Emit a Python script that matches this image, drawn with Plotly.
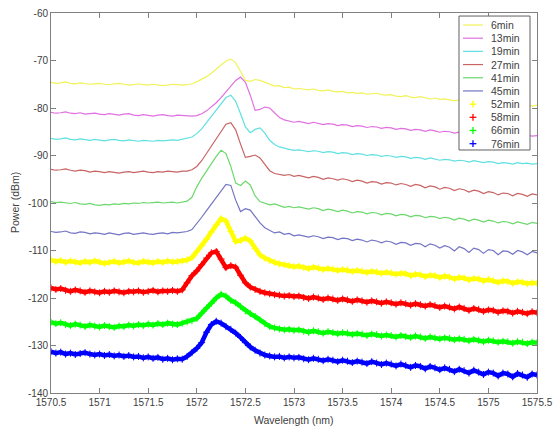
import numpy as np
import plotly.graph_objects as go

# OSA sweep grid: 1570.5 nm to 1575.5 nm, 0.05 nm step
wavelength = np.round(1570.5 + 0.05 * np.arange(101), 2)

labels = ["6min", "13min", "19min", "27min", "41min", "45min",
          "52min", "58min", "66min", "76min"]

p_6min = [
    -74.6, -74.8, -74.7, -74.5, -74.8, -74.9, -74.7, -74.8, -75.0, -74.9,
    -74.8, -75.0, -75.1, -74.9, -74.8, -75.0, -75.2, -75.1, -74.9, -75.1,
    -75.2, -75.0, -75.1, -75.3, -75.2, -75.0, -75.1, -75.2, -75.1, -74.9,
    -74.5, -74.0, -73.4, -72.7, -71.8, -70.9, -70.1, -69.7, -70.5, -72.3,
    -74.2, -74.4, -74.0, -74.2, -74.6, -75.0, -75.4, -75.3, -75.7, -75.6,
    -76.0, -75.9, -76.1, -76.2, -76.0, -76.3, -76.4, -76.2, -76.5, -76.6,
    -76.5, -76.8, -76.7, -76.9, -76.8, -77.1, -77.0, -76.9, -77.2, -77.3,
    -77.2, -77.5, -77.6, -77.4, -77.7, -77.8, -77.6, -77.9, -78.1, -77.9,
    -78.2, -78.1, -78.3, -78.5, -78.3, -78.4, -78.7, -78.6, -78.8, -78.7,
    -79.0, -78.9, -79.1, -79.3, -79.1, -79.2, -79.5, -79.3, -79.4, -79.6, -79.4]

p_13min = [
    -80.9, -81.1, -81.0, -80.8, -81.1, -81.2, -81.0, -81.3, -81.2, -81.1,
    -81.3, -81.4, -81.2, -81.3, -81.5, -81.3, -81.2, -81.5, -81.6, -81.4,
    -81.5, -81.7, -81.5, -81.4, -81.6, -81.7, -81.5, -81.6, -81.6, -81.7,
    -81.6, -81.2, -80.6, -79.8, -78.9, -77.8, -76.6, -75.4, -74.2, -73.5,
    -74.6, -77.3, -80.5, -80.3, -79.8, -80.0, -81.0, -82.0, -82.5, -82.8,
    -83.0, -82.8, -83.1, -83.3, -83.0, -83.2, -83.5, -83.3, -83.4, -83.7,
    -83.5, -83.6, -83.9, -83.7, -83.8, -84.1, -83.9, -84.0, -84.3, -84.1,
    -84.2, -84.5, -84.3, -84.4, -84.7, -84.5, -84.6, -84.9, -84.6, -84.8,
    -85.1, -84.9, -85.0, -85.3, -85.1, -85.2, -85.5, -85.2, -85.4, -85.6,
    -85.4, -85.5, -85.8, -85.6, -85.7, -85.9, -85.6, -85.8, -85.7, -85.9, -85.8]

p_19min = [
    -86.4, -86.6, -86.5, -86.3, -86.6, -86.7, -86.5, -86.6, -86.8, -86.6,
    -86.7, -86.9, -86.7, -86.6, -86.8, -86.9, -86.7, -86.8, -87.0, -86.8,
    -86.9, -87.0, -86.8, -86.9, -86.8, -86.7, -86.8, -86.6, -86.4, -86.1,
    -85.4, -84.4, -83.1, -81.8, -80.4, -79.0, -77.8, -77.3, -78.6, -81.2,
    -84.0, -85.2, -84.5, -84.2, -85.3, -86.8, -87.7, -88.2, -88.5, -88.7,
    -88.9, -88.8, -89.0, -89.2, -89.0, -89.1, -89.4, -89.2, -89.3, -89.6,
    -89.4, -89.5, -89.8, -89.6, -89.7, -90.0, -89.8, -89.9, -90.2, -90.0,
    -90.1, -90.4, -90.2, -90.3, -90.6, -90.4, -90.5, -90.8, -90.5, -90.7,
    -91.0, -90.8, -90.9, -91.2, -91.0, -91.1, -91.4, -91.1, -91.3, -91.5,
    -91.3, -91.4, -91.7, -91.5, -91.6, -91.8, -91.5, -91.7, -91.6, -91.8, -91.7]

p_27min = [
    -92.9, -93.1, -93.0, -92.8, -93.1, -93.3, -93.1, -93.2, -93.5, -93.3,
    -93.4, -93.6, -93.4, -93.5, -93.7, -93.5, -93.4, -93.6, -93.5, -93.3,
    -93.5, -93.6, -93.4, -93.5, -93.3, -93.4, -93.5, -93.3, -93.3, -93.0,
    -92.3, -91.1, -89.6, -88.1, -86.6, -85.0, -83.4, -83.1, -84.6, -87.6,
    -90.4, -90.2, -89.9, -90.5, -91.9, -93.2, -93.8, -94.0, -94.2, -94.0,
    -94.4, -94.2, -94.5, -94.7, -94.4, -94.6, -95.0, -94.7, -94.9, -95.2,
    -94.9, -95.1, -95.5, -95.2, -95.4, -95.8, -95.5, -95.6, -96.0, -95.7,
    -95.8, -96.2, -95.9, -96.1, -96.5, -96.1, -96.3, -96.8, -96.4, -96.6,
    -97.1, -96.7, -96.9, -97.4, -97.0, -97.2, -97.7, -97.3, -97.5, -98.0,
    -97.6, -97.8, -98.3, -97.9, -98.0, -98.5, -98.0, -98.2, -98.6, -98.1, -98.3]

p_41min = [
    -99.7, -99.9, -99.8, -100.0, -100.1, -99.9, -100.2, -100.3, -100.1, -100.4,
    -100.5, -100.3, -100.4, -100.2, -100.3, -100.1, -100.2, -100.0, -100.1, -99.9,
    -100.0, -99.9, -99.8, -100.0, -99.9, -99.8, -100.0, -99.8, -99.6, -98.8,
    -96.6, -94.8, -93.2, -91.8, -90.2, -88.9, -89.6, -92.3, -95.8, -96.3,
    -95.4, -96.2, -98.5, -99.7, -100.1, -100.4, -100.2, -100.6, -100.9, -100.7,
    -101.0, -100.8, -101.1, -101.3, -101.0, -101.2, -101.6, -101.3, -101.5, -101.8,
    -101.5, -101.7, -102.1, -101.8, -101.9, -102.3, -102.0, -102.1, -102.5, -102.2,
    -102.3, -102.7, -102.4, -102.5, -102.9, -102.6, -102.7, -103.1, -102.8, -102.9,
    -103.3, -103.0, -103.2, -103.6, -103.2, -103.4, -103.8, -103.4, -103.6, -104.0,
    -103.6, -103.8, -104.2, -103.9, -104.0, -104.4, -104.0, -104.2, -104.5, -104.1, -104.3]

p_45min = [
    -106.0, -106.2, -106.1, -105.9, -106.3, -106.4, -106.1, -106.2, -106.5, -106.3,
    -106.4, -106.6, -106.3, -106.5, -106.7, -106.4, -106.3, -106.6, -106.5, -106.3,
    -106.5, -106.6, -106.4, -106.3, -106.5, -106.2, -106.3, -106.2, -106.0, -105.6,
    -104.4, -103.0, -101.6, -100.2, -98.9, -97.5, -96.1, -96.3, -99.4, -101.8,
    -101.2, -101.5, -102.9, -104.2, -105.2, -105.8, -106.3, -106.1, -106.6, -106.4,
    -106.9, -106.7, -107.0, -107.2, -106.9, -107.1, -107.5, -107.2, -107.3, -107.7,
    -107.4, -107.5, -107.9, -107.6, -107.8, -108.2, -107.8, -108.0, -108.4, -108.0,
    -108.2, -108.7, -108.3, -108.4, -108.9, -108.5, -108.6, -109.2, -108.6, -108.9,
    -109.5, -109.0, -109.3, -110.1, -109.2, -109.6, -110.4, -109.5, -109.8, -110.6,
    -109.8, -110.0, -110.9, -110.1, -110.2, -110.8, -110.0, -110.3, -110.9, -110.2, -110.5]

p_52min = [
    -112.0, -112.3, -112.1, -112.5, -112.2, -112.4, -112.6, -112.3, -112.5, -112.2,
    -112.4, -112.7, -112.5, -112.3, -112.6, -112.4, -112.2, -112.5, -112.6, -112.3,
    -112.4, -112.6, -112.3, -112.5, -112.2, -112.4, -112.3, -112.2, -112.0, -111.5,
    -110.3, -109.0, -107.6, -106.1, -104.6, -103.3, -103.8, -106.0, -108.1, -107.9,
    -107.4, -108.0, -109.6, -110.9, -111.6, -112.1, -112.5, -112.8, -113.0, -113.2,
    -113.4, -113.3, -113.6, -113.8, -113.5, -113.7, -114.0, -113.8, -113.9, -114.2,
    -114.0, -114.1, -114.4, -114.2, -114.3, -114.6, -114.4, -114.5, -114.8, -114.6,
    -114.7, -115.0, -114.8, -114.9, -115.3, -115.0, -115.1, -115.5, -115.2, -115.3,
    -115.7, -115.4, -115.6, -116.0, -115.7, -115.8, -116.2, -115.9, -116.0, -116.4,
    -116.1, -116.3, -116.7, -116.4, -116.5, -116.9, -116.6, -116.7, -117.0, -116.8, -116.9]

p_58min = [
    -117.9, -118.2, -118.0, -118.4, -118.6, -118.3, -118.5, -118.8, -118.5, -118.7,
    -118.9, -118.6, -118.8, -118.5, -118.7, -118.9, -118.6, -118.7, -118.5, -118.8,
    -118.6, -118.4, -118.7, -118.5, -118.6, -118.4, -118.6, -118.3, -116.8, -115.3,
    -114.3, -113.0, -111.6, -110.5, -110.2, -111.8, -113.6, -113.2, -113.5, -115.2,
    -116.8, -117.7, -118.2, -118.6, -118.9, -119.1, -119.3, -119.4, -119.6, -119.5,
    -119.7, -119.6, -119.9, -120.1, -119.8, -120.0, -120.3, -120.0, -120.2, -120.5,
    -120.2, -120.4, -120.7, -120.4, -120.6, -120.9, -120.6, -120.8, -121.1, -120.8,
    -121.0, -121.3, -121.0, -121.2, -121.5, -121.2, -121.4, -121.7, -121.4, -121.6,
    -122.0, -121.7, -121.9, -122.3, -121.9, -122.2, -122.6, -122.2, -122.4, -122.8,
    -122.5, -122.6, -123.0, -122.7, -122.8, -123.2, -122.8, -123.0, -123.3, -122.9, -123.1]

p_66min = [
    -125.1, -125.4, -125.2, -125.6, -125.8, -125.5, -125.7, -126.0, -125.7, -125.9,
    -126.1, -125.8, -126.0, -126.2, -125.9, -126.0, -125.7, -125.9, -125.6, -125.8,
    -125.5, -125.7, -125.4, -125.6, -125.3, -125.5, -125.6, -125.3, -125.0, -124.8,
    -124.3, -123.2, -122.1, -121.1, -120.0, -119.2, -119.6, -120.5, -121.0, -121.8,
    -122.7, -123.3, -123.9, -124.6, -125.4, -126.0, -126.3, -126.5, -126.7, -126.6,
    -126.8, -126.7, -127.0, -127.2, -126.9, -127.1, -127.4, -127.1, -127.3, -127.5,
    -127.3, -127.4, -127.7, -127.5, -127.6, -127.9, -127.6, -127.7, -128.0, -127.8,
    -127.9, -128.2, -127.9, -128.1, -128.3, -128.0, -128.2, -128.5, -128.2, -128.4,
    -128.6, -128.4, -128.5, -128.8, -128.6, -128.7, -129.0, -128.7, -128.9, -129.2,
    -128.9, -129.0, -129.3, -129.1, -129.2, -129.5, -129.2, -129.3, -129.6, -129.3, -129.4]

p_76min = [
    -131.3, -131.6, -131.4, -131.8, -131.6, -131.9, -131.7, -131.5, -131.8, -132.0,
    -131.8, -132.1, -131.9, -132.2, -132.0, -132.3, -132.1, -132.4, -132.3, -132.6,
    -132.4, -132.7, -132.5, -132.9, -132.7, -133.0, -132.8, -132.9, -132.3, -131.5,
    -130.6, -129.4, -127.2, -125.6, -124.9, -125.3, -126.0, -126.6, -127.4, -128.3,
    -129.4, -130.3, -131.0, -131.6, -132.0, -132.2, -132.4, -132.3, -132.6, -132.4,
    -132.6, -132.5, -132.8, -133.0, -132.7, -132.9, -133.2, -132.9, -133.1, -133.4,
    -133.1, -133.3, -133.6, -133.3, -133.5, -133.8, -133.4, -133.7, -134.0, -133.7,
    -133.9, -134.3, -133.9, -134.2, -134.6, -134.2, -134.4, -134.9, -134.4, -134.7,
    -135.1, -134.7, -135.0, -135.5, -135.0, -135.3, -135.8, -135.2, -135.6, -136.1,
    -135.6, -135.8, -136.4, -135.8, -136.0, -136.6, -135.9, -136.2, -136.7, -136.0, -136.2]

spectra = [p_6min, p_13min, p_19min, p_27min, p_41min, p_45min,
           p_52min, p_58min, p_66min, p_76min]

# thin solid traces for the first six sweeps, '+' markers for the later four
colors = ["#f2f25a", "#e070e0", "#60e0e0", "#c86464", "#6cd86c", "#7474c4",
          "#ffff00", "#ff0000", "#00ff00", "#0000ff"]
styles = ["line"] * 6 + ["cross"] * 4

x_ticks = [1570.5, 1571, 1571.5, 1572, 1572.5, 1573, 1573.5, 1574, 1574.5, 1575, 1575.5]
x_ticktext = ["1570.5", "1571", "1571.5", "1572", "1572.5", "1573", "1573.5",
              "1574", "1574.5", "1575", "1575.5"]
y_ticks = [-60, -70, -80, -90, -100, -110, -120, -130, -140]
y_ticktext = ["-60", "-70", "-80", "-90", "-100", "-110", "-120", "-130", "-140"]

FONT = "Liberation Sans, Arial, sans-serif"
TXT = "#404040"
AX = "#808080"

fig = go.Figure()
for name, y, c, s in zip(labels, spectra, colors, styles):
    if s == "line":
        fig.add_trace(go.Scatter(x=wavelength, y=y, name=name, mode="lines",
                                 line=dict(color=c, width=1.2)))
    else:
        fig.add_trace(go.Scatter(x=wavelength, y=y, name=name, mode="lines+markers",
                                 line=dict(color=c, width=4.5),
                                 marker=dict(symbol="cross-thin", size=5,
                                             line=dict(color=c, width=1))))

# legend box drawn in plot-area coordinates
shapes = [dict(type="rect", xref="paper", yref="paper", x0=0.8395, x1=0.9856,
               y0=0.6395, y1=0.992, fillcolor="white",
               line=dict(color="#606060", width=1), layer="above")]
annotations = []
row_top, row_step = 0.9684, 0.0347
for k, (name, c, s) in enumerate(zip(labels, colors, styles)):
    yk = row_top - k * row_step
    if s == "line":
        shapes.append(dict(type="line", xref="paper", yref="paper",
                           x0=0.8477, x1=0.8889, y0=yk, y1=yk,
                           line=dict(color=c, width=1.2), layer="above"))
    else:
        xc = 0.8683
        shapes.append(dict(type="line", xref="paper", yref="paper",
                           x0=xc - 0.007, x1=xc + 0.007, y0=yk, y1=yk,
                           line=dict(color=c, width=1.3), layer="above"))
        shapes.append(dict(type="line", xref="paper", yref="paper",
                           x0=xc, x1=xc, y0=yk - 0.009, y1=yk + 0.009,
                           line=dict(color=c, width=1.3), layer="above"))
    annotations.append(dict(xref="paper", yref="paper", x=0.9013, y=yk,
                            xanchor="left", yanchor="middle", showarrow=False,
                            text=name, font=dict(family=FONT, size=10.5, color=TXT)))

# axis titles
annotations.append(dict(xref="paper", yref="paper", x=0.5, y=-0.071,
                        xanchor="center", yanchor="middle", showarrow=False,
                        text="Wavelength (nm)",
                        font=dict(family=FONT, size=10.5, color=TXT)))
annotations.append(dict(xref="paper", yref="paper", x=-0.074, y=0.5,
                        xanchor="center", yanchor="middle", showarrow=False,
                        textangle=-90, text="Power (dBm)",
                        font=dict(family=FONT, size=10.5, color=TXT)))

fig.update_layout(
    width=553, height=430,
    margin=dict(l=51, r=16, t=13, b=37),
    paper_bgcolor="white", plot_bgcolor="white",
    showlegend=False,
    font=dict(family=FONT, size=10, color=TXT),
    shapes=shapes, annotations=annotations,
    xaxis=dict(range=[1570.5, 1575.5], tickmode="array", tickvals=x_ticks,
               ticktext=x_ticktext, ticks="inside", ticklen=5, tickcolor=AX,
               showline=True, linecolor=AX, linewidth=1, mirror="ticks",
               showgrid=False, zeroline=False, automargin=False),
    yaxis=dict(range=[-140, -60], tickmode="array", tickvals=y_ticks,
               ticktext=y_ticktext, ticks="inside", ticklen=5, tickcolor=AX,
               showline=True, linecolor=AX, linewidth=1, mirror="ticks",
               showgrid=False, zeroline=False, automargin=False),
)

fig.write_html("out.html")
